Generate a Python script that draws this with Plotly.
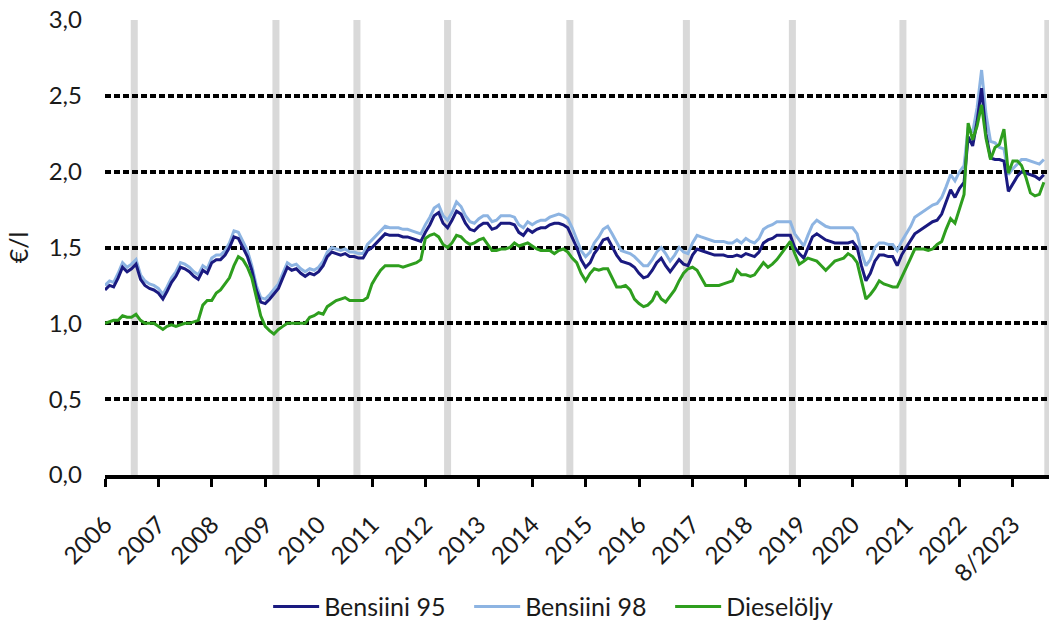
import pandas as pd
import plotly.graph_objects as go

# monthly prices, 1/2006 - 8/2023 (€/l)
months = pd.date_range('2006-01-01', '2023-08-01', freq='MS')

bensiini95 = [
    1.22, 1.25, 1.24, 1.30, 1.37, 1.34, 1.36, 1.39, 1.29, 1.25, 1.23, 1.22,  # 2006
    1.20, 1.16, 1.21, 1.27, 1.31, 1.37, 1.36, 1.34, 1.31, 1.29, 1.35, 1.33,  # 2007
    1.40, 1.42, 1.42, 1.45, 1.50, 1.57, 1.56, 1.50, 1.44, 1.35, 1.22, 1.14,  # 2008
    1.13, 1.16, 1.19, 1.23, 1.30, 1.37, 1.35, 1.36, 1.33, 1.31, 1.33, 1.32,  # 2009
    1.34, 1.38, 1.44, 1.47, 1.46, 1.45, 1.46, 1.44, 1.44, 1.43, 1.43, 1.48,  # 2010
    1.50, 1.53, 1.56, 1.59, 1.58, 1.58, 1.58, 1.57, 1.57, 1.56, 1.55, 1.54,  # 2011
    1.60, 1.65, 1.71, 1.73, 1.66, 1.63, 1.68, 1.74, 1.72, 1.66, 1.62, 1.61,  # 2012
    1.64, 1.66, 1.66, 1.62, 1.63, 1.66, 1.66, 1.66, 1.65, 1.60, 1.58, 1.62,  # 2013
    1.60, 1.62, 1.63, 1.63, 1.65, 1.66, 1.66, 1.65, 1.63, 1.57, 1.50, 1.42,  # 2014
    1.37, 1.40, 1.46, 1.50, 1.55, 1.56, 1.51, 1.45, 1.41, 1.40, 1.39, 1.37,  # 2015
    1.33, 1.30, 1.31, 1.35, 1.40, 1.43, 1.38, 1.34, 1.38, 1.42, 1.39, 1.38,  # 2016
    1.45, 1.49, 1.48, 1.47, 1.46, 1.45, 1.45, 1.45, 1.44, 1.44, 1.45, 1.44,  # 2017
    1.46, 1.45, 1.44, 1.47, 1.53, 1.55, 1.56, 1.58, 1.58, 1.58, 1.58, 1.50,  # 2018
    1.46, 1.43, 1.50, 1.57, 1.59, 1.57, 1.55, 1.54, 1.53, 1.53, 1.53, 1.53,  # 2019
    1.54, 1.50, 1.38, 1.28, 1.33, 1.41, 1.45, 1.45, 1.44, 1.44, 1.38, 1.45,  # 2020
    1.50, 1.55, 1.59, 1.61, 1.63, 1.65, 1.67, 1.68, 1.72, 1.80, 1.88, 1.83,  # 2021
    1.89, 1.93, 2.23, 2.17, 2.33, 2.55, 2.25, 2.09, 2.08, 2.08, 2.07, 1.87,  # 2022
    1.92, 1.97, 2.00, 1.99, 1.98, 1.97, 1.95, 1.98,                          # 2023
]

bensiini98 = [
    1.25, 1.28, 1.27, 1.33, 1.40, 1.37, 1.39, 1.42, 1.32, 1.28, 1.26, 1.25,
    1.23, 1.19, 1.24, 1.30, 1.34, 1.40, 1.39, 1.37, 1.34, 1.32, 1.38, 1.36,
    1.43, 1.45, 1.45, 1.48, 1.53, 1.61, 1.60, 1.54, 1.48, 1.38, 1.25, 1.17,
    1.16, 1.19, 1.22, 1.26, 1.33, 1.40, 1.38, 1.39, 1.36, 1.34, 1.36, 1.35,
    1.37, 1.41, 1.47, 1.50, 1.49, 1.48, 1.49, 1.47, 1.47, 1.46, 1.46, 1.52,
    1.55, 1.58, 1.61, 1.64, 1.63, 1.63, 1.63, 1.62, 1.62, 1.61, 1.60, 1.59,
    1.65, 1.70, 1.76, 1.78, 1.71, 1.68, 1.73, 1.80, 1.77, 1.71, 1.67, 1.66,
    1.69, 1.71, 1.71, 1.67, 1.68, 1.71, 1.71, 1.71, 1.70, 1.65, 1.63, 1.67,
    1.65, 1.67, 1.68, 1.68, 1.70, 1.71, 1.72, 1.71, 1.69, 1.63, 1.56, 1.48,
    1.44, 1.47, 1.53, 1.57, 1.62, 1.64, 1.59, 1.53, 1.48, 1.47, 1.46, 1.44,
    1.41, 1.38, 1.38, 1.42, 1.47, 1.50, 1.46, 1.41, 1.45, 1.50, 1.47, 1.46,
    1.53, 1.58, 1.57, 1.56, 1.55, 1.54, 1.54, 1.54, 1.53, 1.53, 1.55, 1.53,
    1.56, 1.54, 1.53, 1.56, 1.62, 1.64, 1.65, 1.67, 1.67, 1.67, 1.67, 1.59,
    1.55, 1.51, 1.58, 1.65, 1.68, 1.66, 1.64, 1.63, 1.63, 1.63, 1.63, 1.63,
    1.63, 1.59, 1.47, 1.38, 1.42, 1.50, 1.53, 1.53, 1.52, 1.52, 1.48, 1.54,
    1.59, 1.64, 1.70, 1.72, 1.74, 1.76, 1.78, 1.79, 1.83, 1.90, 1.98, 1.94,
    2.00, 2.04, 2.29, 2.26, 2.42, 2.67, 2.38, 2.20, 2.19, 2.16, 2.15, 1.98,
    2.02, 2.05, 2.08, 2.08, 2.07, 2.06, 2.05, 2.08,
]

dieseloljy = [
    1.00, 1.01, 1.02, 1.02, 1.05, 1.04, 1.04, 1.06, 1.02, 1.00, 1.00, 1.00,
    0.98, 0.96, 0.98, 0.99, 0.98, 0.99, 1.00, 1.00, 1.01, 1.02, 1.12, 1.15,
    1.15, 1.20, 1.22, 1.26, 1.30, 1.38, 1.44, 1.42, 1.37, 1.30, 1.18, 1.05,
    0.98, 0.95, 0.93, 0.96, 0.98, 1.00, 1.00, 1.00, 1.00, 1.00, 1.04, 1.05,
    1.07, 1.06, 1.11, 1.13, 1.15, 1.16, 1.17, 1.15, 1.15, 1.15, 1.15, 1.17,
    1.26, 1.31, 1.35, 1.38, 1.38, 1.38, 1.38, 1.37, 1.38, 1.39, 1.40, 1.42,
    1.56, 1.58, 1.59, 1.57, 1.52, 1.50, 1.53, 1.58, 1.57, 1.54, 1.52, 1.53,
    1.55, 1.56, 1.52, 1.48, 1.48, 1.49, 1.49, 1.50, 1.53, 1.51, 1.52, 1.53,
    1.51, 1.49, 1.48, 1.48, 1.48, 1.46, 1.48, 1.49, 1.47, 1.43, 1.40, 1.33,
    1.28, 1.33, 1.36, 1.35, 1.36, 1.36, 1.30, 1.24, 1.24, 1.25, 1.22, 1.16,
    1.13, 1.11, 1.12, 1.15, 1.21, 1.16, 1.14, 1.18, 1.22, 1.28, 1.33, 1.36,
    1.37, 1.35, 1.30, 1.25, 1.25, 1.25, 1.25, 1.26, 1.27, 1.28, 1.35, 1.32,
    1.32, 1.31, 1.32, 1.36, 1.40, 1.37, 1.39, 1.42, 1.46, 1.50, 1.54, 1.46,
    1.39, 1.41, 1.43, 1.42, 1.41, 1.38, 1.35, 1.38, 1.41, 1.42, 1.43, 1.46,
    1.44, 1.40, 1.28, 1.16, 1.19, 1.23, 1.28, 1.26, 1.25, 1.24, 1.24, 1.30,
    1.36, 1.43, 1.49, 1.49, 1.49, 1.48, 1.49, 1.52, 1.54, 1.62, 1.69, 1.66,
    1.75, 1.85, 2.32, 2.21, 2.30, 2.44, 2.22, 2.08, 2.16, 2.18, 2.28, 1.99,
    2.07, 2.07, 2.04, 1.96, 1.86, 1.84, 1.85, 1.93,
]

# grey marker bars
marker_dates = ['2006-07-20', '2009-03-15', '2010-09-20', '2012-06-01', '2014-09-15',
                '2016-11-20', '2018-11-15', '2020-12-10', '2023-08-28']

tick_dates = ['%d-01-01' % y for y in range(2006, 2024)]
tick_text = [str(y) for y in range(2006, 2023)] + ['8/2023']

font_name = 'Lato, Open Sans, sans-serif'

fig = go.Figure()

# 98 drawn first so that 95 lies on top, legend order fixed with legendrank
fig.add_trace(go.Scatter(x=months, y=bensiini98, name='Bensiini 98', mode='lines',
                         legendrank=2, line=dict(color='#8db4e2', width=3)))
fig.add_trace(go.Scatter(x=months, y=bensiini95, name='Bensiini 95', mode='lines',
                         legendrank=1, line=dict(color='#1a1a80', width=3)))
fig.add_trace(go.Scatter(x=months, y=dieseloljy, name='Dieselöljy', mode='lines',
                         legendrank=3, line=dict(color='#2e9e1e', width=3)))

for d in marker_dates:
    t = pd.Timestamp(d)
    fig.add_shape(type='rect', xref='x', yref='y',
                  x0=t - pd.Timedelta(days=24), x1=t + pd.Timedelta(days=24),
                  y0=0, y1=3, fillcolor='#d9d9d9', line=dict(width=0), layer='below')

fig.update_layout(
    width=1051, height=628,
    margin=dict(l=105, r=2, t=20, b=153),
    paper_bgcolor='white', plot_bgcolor='white',
    separators=', ',
    font=dict(family=font_name, size=24, color='#1a1a1a'),
    legend=dict(orientation='h', xref='container', yref='container',
                x=0.542, xanchor='center', y=0.034, yanchor='middle',
                font=dict(size=25), itemwidth=46, entrywidth=140),
    showlegend=True,
)

fig.update_xaxes(
    type='date', range=['2006-01-01', '2023-09-05'], automargin=False,
    tickmode='array', tickvals=tick_dates, ticktext=tick_text, tickangle=-45,
    ticks='outside', ticklen=8, tickwidth=3, tickcolor='black', ticklabelstandoff=14,
    showline=True, linecolor='black', linewidth=4, showgrid=False, zeroline=False,
)
fig.update_yaxes(
    range=[0, 3], dtick=0.5, tickformat='.1f', automargin=False,
    showgrid=True, gridcolor='black', griddash='6px,3px', gridwidth=4,
    zeroline=False, showline=False, ticks='', ticklabelstandoff=22,
    title=dict(text='€/l', standoff=12, font=dict(size=25)),
)

# page body has a default 8px margin; remove it so the chart sits at 0,0
fig.write_html('out.html', config={'displayModeBar': False},
               post_script="document.body.style.margin='0';")
